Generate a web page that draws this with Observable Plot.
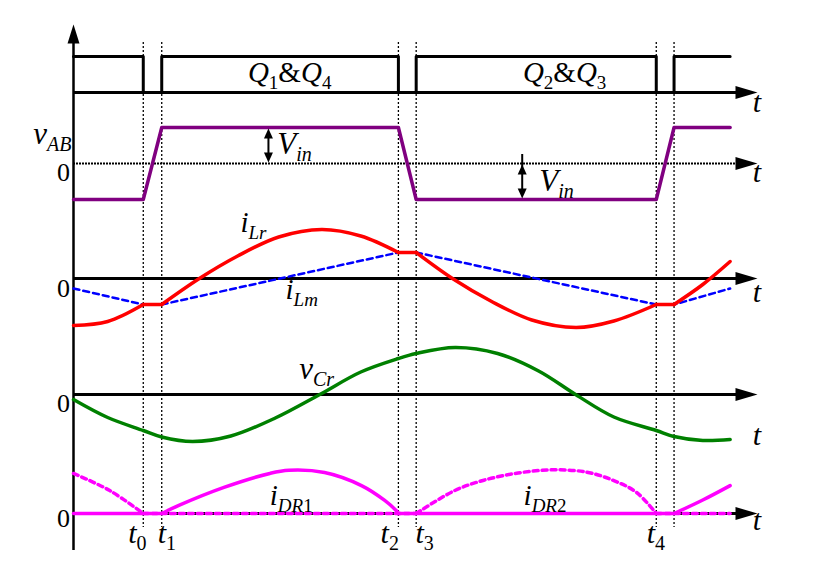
<!DOCTYPE html>
<html><head><meta charset="utf-8">
<script src="https://cdn.jsdelivr.net/npm/d3@7"></script>
<script src="https://cdn.jsdelivr.net/npm/@observablehq/plot@0.6"></script>
<style>html,body{margin:0;padding:0;background:#fff;} #chart{width:818px;height:562px;}</style>
</head><body><div id="chart"></div>
<script>
// ---- data (time in arbitrary units; values normalised) ----
const switchTimes = [1.02, 1.29, 4.75, 5.01, 8.52, 8.78];
const tickLabels = ["t_{0}", "t_{1}", "t_{2}", "t_{3}", "t_{4}"];
const tickLabelTimes = [0.80, 1.23, 4.49, 5.00, 8.38];

const gateT = [0, 1.02, 1.02, 1.29, 1.29, 4.75, 4.75, 5.01, 5.01, 8.52, 8.52, 8.78, 8.78, 9.6];
const gateV = [1, 1, 0, 0, 1, 1, 0, 0, 1, 1, 0, 0, 1, 1];

const vabT = [0, 1.02, 1.29, 4.75, 5.01, 8.52, 8.78, 9.6];
const vabV = [-1, -1, 1, 1, -1, -1, 1, 1];

const iLrT = [[0, 0.5, 1.02], [1.02, 1.29], [1.29, 1.84, 2.4, 3.0, 3.63, 4.2, 4.75], [4.75, 5.01],
              [5.01, 5.54, 6.1, 6.7, 7.35, 7.9, 8.52], [8.52, 8.78], [8.78, 9.2, 9.6]];
const iLrV = [[-0.94, -0.86, -0.52], [-0.52, -0.52], [-0.52, 0, 0.45, 0.83, 0.98, 0.85, 0.52], [0.52, 0.52],
              [0.52, 0, -0.45, -0.83, -0.98, -0.85, -0.52], [-0.52, -0.52], [-0.52, -0.12, 0.34]];

const iLmT = [0, 1.02, 1.29, 4.75, 5.01, 8.52, 8.78, 9.6];
const iLmV = [-0.2, -0.52, -0.52, 0.52, 0.52, -0.52, -0.52, -0.2];

const vCrT = [0, 0.5, 1.02, 1.29, 1.74, 2.3, 2.95, 3.6, 4.2, 4.75, 5.01, 5.58, 6.2, 6.8, 7.34, 7.9, 8.52, 8.78, 9.2, 9.6];
const vCrV = [-0.1, -0.46, -0.72, -0.85, -0.94, -0.83, -0.47, 0, 0.45, 0.72, 0.82, 0.94, 0.82, 0.47, 0, -0.45, -0.72, -0.84, -0.92, -0.9];

const iDR1T = [[0, 1.29], [1.29, 1.54, 2.2, 2.87, 3.15, 3.67, 4.21, 4.55, 4.72, 4.75], [4.75, 8.78], [8.78, 9.2, 9.6]];
const iDR1V = [[0, 0], [0, 0.18, 0.58, 0.89, 0.96, 0.91, 0.62, 0.29, 0.06, 0], [0, 0], [0, 0.3, 0.62]];

const iDR2T = [[0, 0.53, 1.02], [1.02, 5.01], [5.01, 5.56, 6.0, 6.5, 7.0, 7.5, 7.9, 8.23, 8.52], [8.52, 9.6]];
const iDR2V = [[0.89, 0.51, 0], [0, 0], [0, 0.5, 0.74, 0.9, 0.97, 0.92, 0.73, 0.47, 0], [0, 0]];

// ---- layout of the stacked panels (pixel baselines and gains) ----
const P = {
  gate: {base: 92, gain: 36},
  vab:  {base: 163, gain: 36},
  ilr:  {base: 278, gain: 50},
  vcr:  {base: 394, gain: 50},
  idr:  {base: 513, gain: 45}
};
const rows = (ts, vs, p, seg = 0) => ts.map((t, i) => ({t, y: p.base - p.gain * vs[i], seg}));
const segRows = (TT, VV, p) => TT.flatMap((ts, k) => rows(ts, VV[k], p, k));

const gateRows = rows(gateT, gateV, P.gate);
const vabRows = rows(vabT, vabV, P.vab);
const iLrRows = segRows(iLrT, iLrV, P.ilr);
const iLmRows = rows(iLmT, iLmV, P.ilr);
const vCrRows = rows(vCrT, vCrV, P.vcr);
const iDR1Rows = segRows(iDR1T, iDR1V, P.idr);
const iDR2Rows = segRows(iDR2T, iDR2V, P.idr);

const axisEnd = 10;
const solidAxes = [P.gate.base, P.ilr.base, P.vcr.base, P.idr.base];
const allAxes = [P.gate.base, P.vab.base, P.ilr.base, P.vcr.base, P.idr.base];

const arrowRight = {draw(c) { c.moveTo(0, 0); c.lineTo(-22, -6.5); c.lineTo(-22, 6.5); c.closePath(); }};
const arrowUp = {draw(c) { c.moveTo(0, 0); c.lineTo(-6, 19); c.lineTo(6, 19); c.closePath(); }};
const smallUp = {draw(c) { c.moveTo(0, 0); c.lineTo(-4.5, 10); c.lineTo(4.5, 10); c.closePath(); }};
const smallDown = {draw(c) { c.moveTo(0, 0); c.lineTo(-4.5, -10); c.lineTo(4.5, -10); c.closePath(); }};

// V_in double arrows: at time, from baseline to level
const vinArrows = [{t: 2.85, from: 0, to: 1}, {t: 6.56, from: 0, to: -1}];
const vinRows = vinArrows.map(a => ({t: a.t, y1: P.vab.base - P.vab.gain * a.from, y2: P.vab.base - P.vab.gain * a.to}));

// text labels (time position, pixel baseline)
const labels = [
  {t: 3.16, y: 81, text: "Q_{1}&Q_{4}", size: 29, anchor: "middle"},
  {t: 7.18, y: 81, text: "Q_{2}&Q_{3}", size: 29, anchor: "middle"},
  {t: -0.03, y: 143, text: "v_{AB}", size: 31, anchor: "end"},
  {t: -0.05, y: 180, text: "0", size: 26, anchor: "end"},
  {t: -0.05, y: 296, text: "0", size: 26, anchor: "end"},
  {t: -0.05, y: 411, text: "0", size: 26, anchor: "end"},
  {t: -0.05, y: 526, text: "0", size: 26, anchor: "end"},
  {t: 2.98, y: 153, text: "V_{in}", size: 31, anchor: "start"},
  {t: 6.81, y: 190, text: "V_{in}", size: 31, anchor: "start"},
  {t: 2.44, y: 231, text: "i_{Lr}", size: 29, anchor: "start"},
  {t: 3.10, y: 298, text: "i_{Lm}", size: 29, anchor: "start"},
  {t: 3.30, y: 378, text: "v_{Cr}", size: 31, anchor: "start"},
  {t: 2.87, y: 504, text: "i_{DR1}", size: 29, anchor: "start"},
  {t: 6.58, y: 504, text: "i_{DR2}", size: 29, anchor: "start"},
  {t: 9.93, y: 111, text: "t", size: 30, anchor: "start"},
  {t: 9.93, y: 181, text: "t", size: 30, anchor: "start"},
  {t: 9.93, y: 301, text: "t", size: 30, anchor: "start"},
  {t: 9.93, y: 444, text: "t", size: 30, anchor: "start"},
  {t: 9.93, y: 529, text: "t", size: 30, anchor: "start"},
  ...tickLabels.map((s, i) => ({t: tickLabelTimes[i], y: 542, text: s, size: 30, anchor: "start"}))
];
const SERIF = "Liberation Serif";
const textMark = anchor => Plot.text(labels.filter(d => d.anchor === anchor), {
  x: "t", y: "y", text: "text", fontSize: d => d.size, fontFamily: SERIF, textAnchor: anchor, lineAnchor: "bottom", fill: "black"
});

const chart = Plot.plot({
  width: 818, height: 562, margin: 0,
  x: {domain: [0, 10], range: [73, 757], axis: null},
  y: {domain: [0, 562], range: [0, 562], axis: null},
  style: {background: "white", fontFamily: SERIF},
  marks: [
    // switching-instant dotted guides
    Plot.ruleX(switchTimes, {x: d => d, y1: 42, y2: 527, stroke: "black", strokeWidth: 1.3, strokeDasharray: "2,2"}),
    // horizontal axes
    Plot.ruleY(solidAxes, {y: d => d, x1: 0, x2: 9.72, stroke: "black", strokeWidth: 3}),
    Plot.ruleY([P.vab.base], {y: d => d, x1: 0, x2: 9.72, stroke: "black", strokeWidth: 2.2, strokeDasharray: "2,1"}),
    Plot.dot(allAxes, {x: axisEnd, y: d => d, symbol: arrowRight, fill: "black", stroke: "none"}),
    // vertical axis
    Plot.ruleX([0], {x: d => d, y1: 40, y2: 550, stroke: "black", strokeWidth: 2.5}),
    Plot.dot([0], {x: d => d, y: 24, symbol: arrowUp, fill: "black", stroke: "none"}),
    // gate signals
    Plot.line(gateRows, {x: "t", y: "y", stroke: "black", strokeWidth: 3}),
    // v_AB
    Plot.line(vabRows, {x: "t", y: "y", stroke: "#800080", strokeWidth: 3.5}),
    Plot.ruleX(vinRows, {x: "t", y1: d => d.y1 - 9, y2: d => d.y2 + (d.y2 < d.y1 ? 9 : -9), stroke: "black", strokeWidth: 2}),
    Plot.dot(vinRows, {x: "t", y: d => Math.min(d.y1, d.y2) + 1, symbol: smallUp, fill: "black", stroke: "none"}),
    Plot.dot(vinRows, {x: "t", y: d => Math.max(d.y1, d.y2) - 1, symbol: smallDown, fill: "black", stroke: "none"}),
    // i_Lm and i_Lr
    Plot.line(iLmRows, {x: "t", y: "y", stroke: "#0000ff", strokeWidth: 2.5, strokeDasharray: "6,4"}),
    Plot.line(iLrRows, {x: "t", y: "y", z: "seg", curve: "catmull-rom", stroke: "#ff0000", strokeWidth: 3.5}),
    // v_Cr
    Plot.line(vCrRows, {x: "t", y: "y", curve: "catmull-rom", stroke: "#008000", strokeWidth: 3.5}),
    // i_DR1 (solid) and i_DR2 (dashed)
    Plot.line(iDR1Rows, {x: "t", y: "y", z: "seg", curve: "catmull-rom", stroke: "#ff00ff", strokeWidth: 3.5}),
    Plot.line(iDR2Rows, {x: "t", y: "y", z: "seg", curve: "catmull-rom", stroke: "#ff00ff", strokeWidth: 3.5, strokeDasharray: "5,4"}),
    // labels
    textMark("start"), textMark("end"), textMark("middle")
  ]
});

// turn "base_{sub}" strings into real text with subscript tspans
function richText(svg) {
  for (const el of svg.querySelectorAll("text")) {
    const raw = el.textContent;
    const size = parseFloat(el.getAttribute("font-size")) || 26;
    const subSize = Math.round(size * 0.66);
    const shift = Math.round(size * 0.24);
    const tokens = [];
    const re = /_\{([^}]*)\}/g; let last = 0, m;
    while ((m = re.exec(raw))) {
      if (m.index > last) tokens.push({s: raw.slice(last, m.index), sub: false});
      tokens.push({s: m[1], sub: true});
      last = re.lastIndex;
    }
    if (last < raw.length) tokens.push({s: raw.slice(last), sub: false});
    el.textContent = "";
    el.setAttribute("font-family", SERIF);
    let cur = 0;
    for (const tok of tokens) {
      const parts = tok.s.match(/[A-Za-z]+|[^A-Za-z]+/g) || [];
      for (const p of parts) {
        const ts = document.createElementNS("http://www.w3.org/2000/svg", "tspan");
        ts.textContent = p;
        ts.setAttribute("font-family", SERIF);
        ts.setAttribute("font-size", tok.sub ? subSize : size);
        ts.setAttribute("font-style", /[A-Za-z]/.test(p) ? "italic" : "normal");
        const target = tok.sub ? shift : 0;
        if (target !== cur) { ts.setAttribute("dy", target - cur); cur = target; }
        el.appendChild(ts);
      }
    }
  }
}
richText(chart);
document.getElementById("chart").appendChild(chart);
</script>
</body></html>
